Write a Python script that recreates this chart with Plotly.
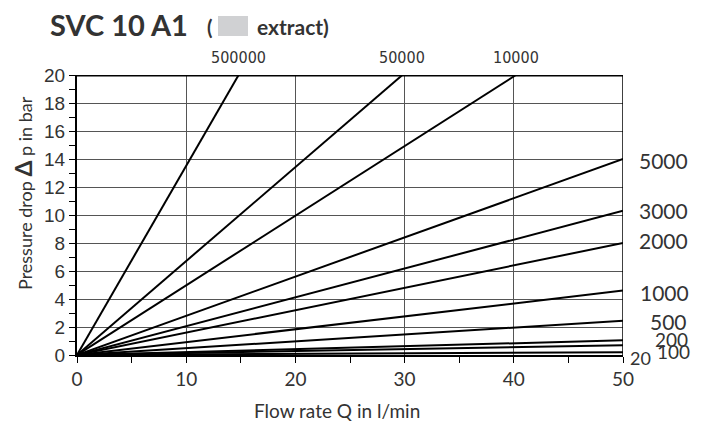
import plotly.graph_objects as go

# ---- data ----
series_labels = ["500000", "50000", "10000", "5000", "3000", "2000", "1000", "500", "200", "100", "20"]
q_end = [14.8, 29.8, 40.2, 50, 50, 50, 50, 50, 50, 50, 50]          # flow rate at line end (l/min)
dp_end = [20, 20, 20, 14.0, 10.3, 8.0, 4.6, 2.45, 1.05, 0.7, 0.2]   # pressure drop at line end (bar)

x_ticks = [0, 10, 20, 30, 40, 50]
y_ticks = [0, 2, 4, 6, 8, 10, 12, 14, 16, 18, 20]

title_text = "SVC 10 A1"
subtitle_open = "("
subtitle_text = "extract)"
x_title = "Flow rate Q in l/min"
y_title = "Pressure drop <b><span style='font-size:23px'>Δ</span></b> p in bar"

# label placement (style only)
right_label_y = [None, None, None, 13.86, 10.3, 8.2, 4.43, 2.36, 1.12, 0.25, 0.0]
right_label_dx = [0, 0, 0, 14, 14, 14, 15, 25, 30, 32, 5]
right_label_dy = [0, 0, 0, 0, 0, 0, 0, 0, 0, 0, -3]
right_label_size = [0, 0, 0, 21, 21, 21, 21, 21, 19, 19, 18]

# the page body has an 8px margin, so the figure is drawn 8px in from the top-left
OFF = 8
W, H = 702 - OFF, 423 - OFF
L, R, T, B = 77 - OFF, 702 - 623, 75 - OFF, 423 - 355
PW, PH = W - L - R, H - T - B

def px(xp):
    return (xp - OFF - L) / PW

def py(yp):
    return (H - B - (yp - OFF)) / PH

FONT = "Lato, 'Open Sans', sans-serif"
TXT = "#333333"

fig = go.Figure()
for lab, qe, de in zip(series_labels, q_end, dp_end):
    fig.add_trace(go.Scatter(x=[0, qe], y=[0, de], mode="lines",
                             line=dict(color="black", width=2),
                             name=lab, showlegend=False, hoverinfo="skip"))

annotations = []
# top labels (lines leaving through the top)
for lab, qe, de in zip(series_labels, q_end, dp_end):
    if de >= 20 and qe < 50:
        annotations.append(dict(x=qe, y=py(57), xref="x", yref="paper", text=lab,
                                showarrow=False, xanchor="center", yanchor="middle",
                                font=dict(family="'Liberation Sans Narrow', 'DejaVu Sans Condensed', Roboto, sans-serif",
                                          size=16, color=TXT)))
# right labels
for lab, yl, dx, dy, fs in zip(series_labels, right_label_y, right_label_dx, right_label_dy, right_label_size):
    if yl is None:
        continue
    annotations.append(dict(x=50, y=yl, xref="x", yref="y", text=lab, showarrow=False,
                            xanchor="left", yanchor="middle", xshift=dx, yshift=dy,
                            font=dict(family=FONT, size=fs, color=TXT)))

# title pieces
annotations.append(dict(x=px(48), y=py(25), xref="paper", yref="paper", text="<b>" + title_text + "</b>",
                        showarrow=False, xanchor="left", yanchor="middle",
                        font=dict(family=FONT, size=29, color=TXT)))
annotations.append(dict(x=px(205), y=py(27), xref="paper", yref="paper", text="<b>" + subtitle_open + "</b>",
                        showarrow=False, xanchor="left", yanchor="middle",
                        font=dict(family=FONT, size=20, color=TXT)))
annotations.append(dict(x=px(255), y=py(27), xref="paper", yref="paper", text="<b>" + subtitle_text + "</b>",
                        showarrow=False, xanchor="left", yanchor="middle",
                        font=dict(family=FONT, size=21, color=TXT)))
# axis titles
annotations.append(dict(x=px(337), y=py(410), xref="paper", yref="paper", text=x_title,
                        showarrow=False, xanchor="center", yanchor="middle",
                        font=dict(family=FONT, size=19, color=TXT)))
annotations.append(dict(x=px(23), y=py(193), xref="paper", yref="paper", text=y_title,
                        showarrow=False, xanchor="center", yanchor="middle", textangle=-90,
                        font=dict(family=FONT, size=18, color=TXT)))

shapes = [
    # gray swatch in the title
    dict(type="rect", xref="paper", yref="paper", x0=px(218), x1=px(248), y0=py(36), y1=py(16),
         fillcolor="#d0d1d3", line=dict(width=0)),
    # top border
    dict(type="line", xref="x", yref="y", x0=0, x1=50, y0=20, y1=20, line=dict(color="black", width=3)),
    # right border
    dict(type="line", xref="x", yref="y", x0=50, x1=50, y0=0, y1=20, line=dict(color="black", width=1.5)),
]

fig.update_layout(
    width=W, height=H,
    margin=dict(l=L, r=R, t=T, b=B),
    paper_bgcolor="white", plot_bgcolor="white",
    annotations=annotations, shapes=shapes,
    font=dict(family=FONT, color=TXT),
)
fig.update_xaxes(range=[0, 50], tickvals=x_ticks, ticktext=[str(v) for v in x_ticks],
                 showgrid=True, gridcolor="#555555", gridwidth=1,
                 showline=True, linecolor="black", linewidth=2,
                 ticks="outside", ticklen=6, tickcolor="black", tickwidth=1,
                 minor=dict(dtick=5, tick0=0, ticks="outside", ticklen=6, tickcolor="black", showgrid=False),
                 tickfont=dict(family=FONT, size=19, color=TXT), zeroline=False)
fig.update_yaxes(range=[0, 20], tickvals=y_ticks, ticktext=[str(v) for v in y_ticks],
                 showgrid=True, gridcolor="#555555", gridwidth=1,
                 showline=True, linecolor="black", linewidth=2,
                 ticks="outside", ticklen=6, tickcolor="black", tickwidth=1,
                 minor=dict(dtick=1, tick0=0, ticks="outside", ticklen=6, tickcolor="black", showgrid=False),
                 tickfont=dict(family="'Liberation Sans', Arial, sans-serif", size=19, color=TXT), zeroline=False)

fig.write_html("out.html")
